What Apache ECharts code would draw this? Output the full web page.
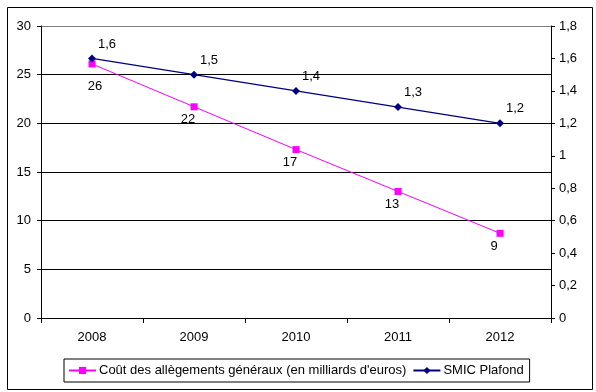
<!DOCTYPE html>
<html><head><meta charset="utf-8">
<script src="https://cdn.jsdelivr.net/npm/echarts@6/dist/echarts.min.js"></script>
<style>html,body{margin:0;padding:0;background:#fff}#c{width:596px;height:392px}</style>
</head><body><div id="c"></div>
<script>
const years = ['2008','2009','2010','2011','2012'];
const coutValues = [26.1, 21.7, 17.3, 13.0, 8.7];
const smicValues = [1.6, 1.5, 1.4, 1.3, 1.2];
const coutName = "Coût des allègements généraux (en milliards d'euros)";
const smicName = 'SMIC Plafond';

const FONT = 'Liberation Sans, Arial, sans-serif';
const FS = 13;
const fmtComma = v => String(Math.round(v * 10) / 10).replace('.', ',');

// first pink label sits lower (clear of the crossing lines), as in the reference
const coutData = coutValues.map((v, i) => i === 0 ? {value: v, label: {offset: [3, 7]}} : v);

const chart = echarts.init(document.getElementById('c'), null, {renderer: 'canvas'});
chart.setOption({
  animation: false,
  backgroundColor: '#fff',
  textStyle: {fontFamily: FONT},
  graphic: [{
    type: 'rect', left: 5, top: 5, z: -1,
    shape: {width: 585, height: 382},
    style: {fill: 'none', stroke: '#000', lineWidth: 1}
  }],
  grid: {left: 41, right: 45, top: 26, bottom: 74},
  legend: {
    left: 64, top: 359,
    padding: [5, 6, 5, 4],
    itemGap: 6, itemWidth: 27, itemHeight: 9,
    borderColor: '#000', borderWidth: 1,
    textStyle: {fontFamily: FONT, fontSize: FS, color: '#000', padding: [0, 0, 0, -2]},
    data: [coutName, smicName]
  },
  xAxis: {
    type: 'category', data: years, boundaryGap: true,
    axisLine: {lineStyle: {color: '#000'}},
    axisTick: {show: true, length: 5, lineStyle: {color: '#000'}},
    axisLabel: {color: '#000', fontSize: FS, margin: 13, fontFamily: FONT}
  },
  yAxis: [{
    type: 'value', min: 0, max: 30, interval: 5,
    axisLine: {show: true, lineStyle: {color: '#000'}},
    axisTick: {show: true, length: 4, lineStyle: {color: '#000'}},
    axisLabel: {color: '#000', fontSize: FS, margin: 10, fontFamily: FONT},
    splitLine: {show: true, lineStyle: {color: ['#000','#000','#000','#000','#000','#000','#808080'], width: 1}}
  }, {
    type: 'value', min: 0, max: 1.8, interval: 0.2, position: 'right',
    axisLine: {show: true, lineStyle: {color: '#000'}},
    axisTick: {show: true, length: 4, lineStyle: {color: '#000'}},
    axisLabel: {color: '#000', fontSize: FS, margin: 8, fontFamily: FONT, formatter: fmtComma},
    splitLine: {show: false}
  }],
  series: [{
    name: coutName, type: 'line', yAxisIndex: 0, data: coutData,
    symbol: 'rect', symbolSize: 7,
    lineStyle: {color: '#FF00FF', width: 1},
    itemStyle: {color: '#FF00FF'},
    label: {show: true, position: 'bottom', offset: [-6, -2], color: '#000', fontSize: FS,
      fontFamily: FONT, formatter: p => String(Math.round(p.value))},
    z: 3
  }, {
    name: smicName, type: 'line', yAxisIndex: 1, data: smicValues,
    symbol: 'diamond', symbolSize: 8,
    lineStyle: {color: '#000080', width: 1.3},
    itemStyle: {color: '#000080'},
    label: {show: true, position: 'top', offset: [15, 1], color: '#000', fontSize: FS,
      fontFamily: FONT, formatter: p => fmtComma(p.value)},
    z: 4
  }]
});
</script></body></html>
